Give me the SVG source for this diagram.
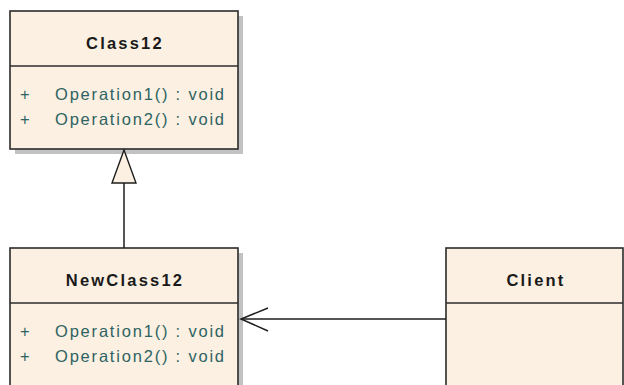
<svg xmlns="http://www.w3.org/2000/svg" width="624" height="385" viewBox="0 0 624 385">
  <style>
    .shadow { fill: #c2c2c2; }
    .box { fill: #fbf0e1; stroke: #2b2b2b; stroke-width: 1.6; }
    .sep { stroke: #2b2b2b; stroke-width: 1.4; }
    .title { font-family: "Liberation Sans", Arial, sans-serif; font-weight: bold; font-size: 16.5px; letter-spacing: 2.2px; fill: #1a1a1a; text-anchor: middle; }
    .op { font-family: "Liberation Sans", Arial, sans-serif; font-size: 16.5px; letter-spacing: 1.8px; fill: #2e6363; }
    .edge { fill: none; stroke: #1e1e1e; stroke-width: 1.5; }
  </style>
  <rect width="624" height="385" fill="#ffffff"/>

  <g id="Class12">
    <rect class="shadow" x="15" y="16" width="228" height="138"/>
    <rect class="box" x="10" y="11" width="228" height="138"/>
    <line class="sep" x1="10" y1="66" x2="238" y2="66"/>
    <text class="title" x="125" y="49">Class12</text>
    <text class="op" x="20" y="100">+</text>
    <text class="op" x="55" y="100">Operation1() : void</text>
    <text class="op" x="20" y="125">+</text>
    <text class="op" x="55" y="125">Operation2() : void</text>
  </g>

  <g id="NewClass12">
    <rect class="shadow" x="15" y="253" width="228" height="140"/>
    <rect class="box" x="10" y="248" width="228" height="140"/>
    <line class="sep" x1="10" y1="303" x2="238" y2="303"/>
    <text class="title" x="125" y="286">NewClass12</text>
    <text class="op" x="20" y="337">+</text>
    <text class="op" x="55" y="337">Operation1() : void</text>
    <text class="op" x="20" y="362">+</text>
    <text class="op" x="55" y="362">Operation2() : void</text>
  </g>

  <g id="Client">
    <rect class="box" x="446" y="248" width="177" height="140"/>
    <line class="sep" x1="446" y1="303" x2="623" y2="303"/>
    <text class="title" x="536" y="286">Client</text>
  </g>

  <g id="connectors">
    <!-- generalization: NewClass12 -> Class12 -->
    <line class="edge" x1="124" y1="248" x2="124" y2="183"/>
    <polygon points="124,150 112,183 136,183" fill="#fbf0e1" stroke="#1e1e1e" stroke-width="1.4"/>
    <!-- association: Client -> NewClass12, open arrowhead -->
    <line class="edge" x1="446" y1="319" x2="241" y2="319"/>
    <polyline class="edge" points="268,308 241,319 268,331"/>
  </g>
</svg>
